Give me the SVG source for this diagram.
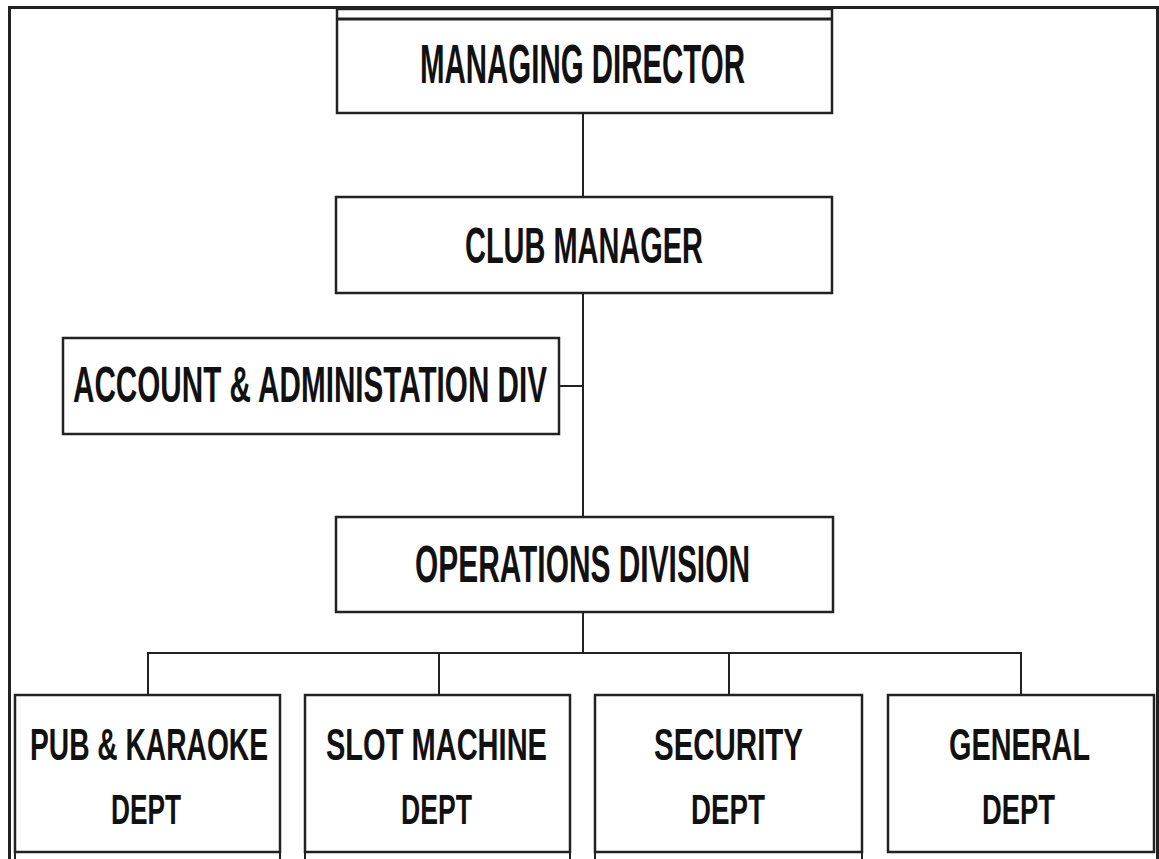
<svg xmlns="http://www.w3.org/2000/svg" width="1159" height="859" viewBox="0 0 1159 859">
<style>
.box{fill:#fff;stroke:#222;stroke-width:2.5}
.ln{stroke:#222;stroke-width:2;fill:none}
.frame{stroke:#222;stroke-width:3;fill:none}
text{font-family:"Liberation Sans",Arial,sans-serif;font-weight:bold;fill:#111;text-anchor:middle;font-size:29px}
.l1{}
</style>
<rect width="1159" height="859" fill="#fff"/>
<path class="frame" d="M9.5,859 V7.5 H1157.5 V859"/>
<g id="connectors">
<line class="ln" x1="583" y1="113" x2="583" y2="197"/>
<line class="ln" x1="583" y1="293" x2="583" y2="517"/>
<line class="ln" x1="559" y1="386" x2="583" y2="386"/>
<line class="ln" x1="583" y1="612" x2="583" y2="653"/>
<line class="ln" x1="147" y1="653" x2="1022" y2="653"/>
<line class="ln" x1="148" y1="653" x2="148" y2="695"/>
<line class="ln" x1="439" y1="653" x2="439" y2="695"/>
<line class="ln" x1="729" y1="653" x2="729" y2="695"/>
<line class="ln" x1="1021" y1="653" x2="1021" y2="695"/>
</g>
<g id="managing-director">
<rect class="box" x="337" y="9" width="495" height="104"/>
<line x1="337" y1="19" x2="832" y2="19" stroke="#222" stroke-width="3"/>
<text x="582.5" y="83" style="font-size:29.4px" transform="matrix(1 0 0 1.9 0 -74.7)" textLength="325" lengthAdjust="spacingAndGlyphs">MANAGING DIRECTOR</text>
</g>
<g id="club-manager">
<rect class="box" x="336" y="197" width="496" height="96"/>
<text x="584" y="263" transform="matrix(1 0 0 1.73 0 -191.99)" textLength="238" lengthAdjust="spacingAndGlyphs">CLUB MANAGER</text>
</g>
<g id="account-admin">
<rect class="box" x="63" y="338" width="496" height="96"/>
<text x="310" y="402" transform="matrix(1 0 0 1.73 0 -293.46)" textLength="474" lengthAdjust="spacingAndGlyphs">ACCOUNT &amp; ADMINISTATION DIV</text>
</g>
<g id="operations">
<rect class="box" x="336" y="517" width="497" height="95"/>
<text x="582.5" y="582" transform="matrix(1 0 0 1.78 0 -453.96)" textLength="335" lengthAdjust="spacingAndGlyphs">OPERATIONS DIVISION</text>
</g>
<g id="pub-karaoke">
<rect class="box" x="15" y="695" width="265" height="157"/>
<line class="ln" x1="15" y1="852" x2="15" y2="859"/><line class="ln" x1="280" y1="852" x2="280" y2="859"/>
<text x="149" y="760" transform="matrix(1 0 0 1.54 0 -410.4)" textLength="238" lengthAdjust="spacingAndGlyphs">PUB &amp; KARAOKE</text>
<text x="146" y="824" transform="matrix(1 0 0 1.49 0 -403.76)" textLength="70" lengthAdjust="spacingAndGlyphs">DEPT</text>
</g>
<g id="slot-machine">
<rect class="box" x="305" y="695" width="265" height="157"/>
<line class="ln" x1="305" y1="852" x2="305" y2="859"/><line class="ln" x1="570" y1="852" x2="570" y2="859"/>
<text x="436.5" y="760" transform="matrix(1 0 0 1.54 0 -410.4)" textLength="221" lengthAdjust="spacingAndGlyphs">SLOT MACHINE</text>
<text x="436.5" y="824" transform="matrix(1 0 0 1.49 0 -403.76)" textLength="71" lengthAdjust="spacingAndGlyphs">DEPT</text>
</g>
<g id="security">
<rect class="box" x="595" y="695" width="267" height="157"/>
<line class="ln" x1="595" y1="852" x2="595" y2="859"/><line class="ln" x1="862" y1="852" x2="862" y2="859"/>
<text x="728.5" y="760" transform="matrix(1 0 0 1.54 0 -410.4)" textLength="149" lengthAdjust="spacingAndGlyphs">SECURITY</text>
<text x="728" y="824" transform="matrix(1 0 0 1.49 0 -403.76)" textLength="74" lengthAdjust="spacingAndGlyphs">DEPT</text>
</g>
<g id="general">
<rect class="box" x="888" y="695" width="266" height="157"/>
<text x="1019.5" y="760" transform="matrix(1 0 0 1.54 0 -410.4)" textLength="141" lengthAdjust="spacingAndGlyphs">GENERAL</text>
<text x="1018.5" y="824" transform="matrix(1 0 0 1.49 0 -403.76)" textLength="73" lengthAdjust="spacingAndGlyphs">DEPT</text>
</g>
</svg>
